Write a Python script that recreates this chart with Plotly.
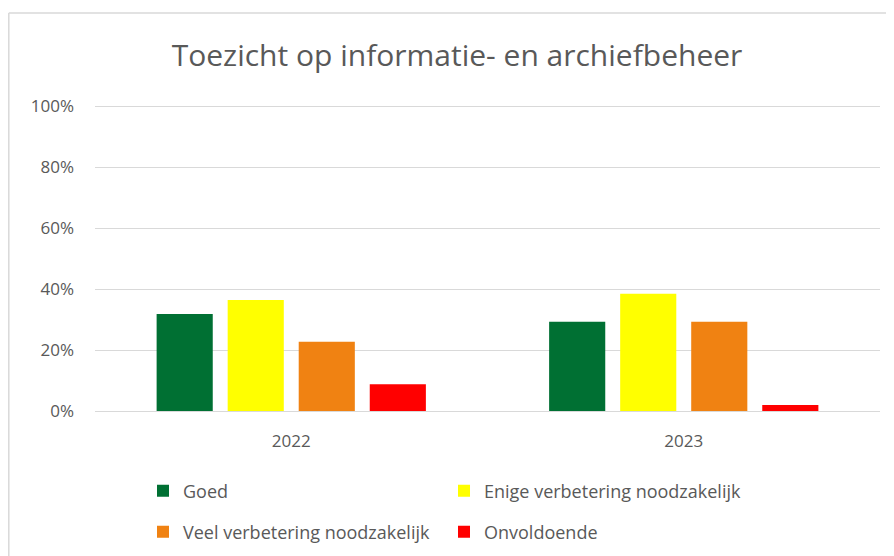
import plotly.graph_objects as go

categories = ["2022", "2023"]
series_names = ["Goed", "Enige verbetering noodzakelijk", "Veel verbetering noodzakelijk", "Onvoldoende"]
goed = [0.318, 0.293]
enige = [0.364, 0.385]
veel = [0.227, 0.293]
onvoldoende = [0.088, 0.02]
colors = ["#007033", "#FFFF00", "#F08212", "#FF0000"]
y_ticks = [0, 0.2, 0.4, 0.6, 0.8, 1.0]

FONT = "Open Sans"
TXT = "#595959"
OFF = 8  # page body offset

fig = go.Figure()
legend_ids = ["legend", "legend", "legend2", "legend2"]
for name, vals, col, lg in zip(series_names, [goed, enige, veel, onvoldoende], colors, legend_ids):
    fig.add_trace(go.Bar(x=categories, y=vals, name=name, marker=dict(color=col, line=dict(width=0)),
                         legend=lg))

W, H = 894 - OFF, 556 - OFF
L, R, T, B = 95 - OFF, 14, 105 - OFF, 556 - 411
pw, ph = W - L - R, H - T - B

def px(x):
    return (x - OFF - L) / pw

def py(y):
    return (H - B - (y - OFF)) / ph

legend_common = dict(orientation="h", xanchor="left", yanchor="middle", entrywidth=256, entrywidthmode="pixels",
                     font=dict(family=FONT, size=18, color=TXT), bgcolor="rgba(0,0,0,0)",
                     itemwidth=30, tracegroupgap=0)

fig.update_layout(
    width=W, height=H,
    margin=dict(l=L, r=R, t=T, b=B, autoexpand=False),
    paper_bgcolor="white", plot_bgcolor="white",
    barmode="group", bargap=0.276, bargroupgap=0.21,
    title=dict(text="Toezicht op informatie- en archiefbeheer", x=px(457), xref="paper", xanchor="center",
               y=1 - (55 - OFF) / H, yanchor="middle",
               font=dict(family=FONT, size=30, color=TXT)),
    font=dict(family=FONT, size=16, color=TXT),
    legend=dict(x=px(143), y=py(491), **legend_common),
    legend2=dict(x=px(143), y=py(532), **legend_common),
    xaxis=dict(showline=True, linecolor="#d9d9d9", linewidth=1, ticks="", tickfont=dict(size=17, color=TXT),
               showgrid=False, ticklabelstandoff=15),
    yaxis=dict(range=[0, 1.004], tickvals=y_ticks, tickformat=".0%", showgrid=True, gridcolor="#d9d9d9",
               gridwidth=1, zeroline=False, showline=False, ticks="", tickfont=dict(size=17, color=TXT),
               ticklabelstandoff=20),
    shapes=[
        dict(type="line", xref="paper", yref="paper", x0=px(8.8), x1=px(900), y0=py(13), y1=py(13),
             line=dict(color="#d9d9d9", width=1.5)),
        dict(type="line", xref="paper", yref="paper", x0=px(8.8), x1=px(8.8), y0=py(13), y1=py(560),
             line=dict(color="#d9d9d9", width=1.5)),
    ],
)

fig.write_html("out.html")
